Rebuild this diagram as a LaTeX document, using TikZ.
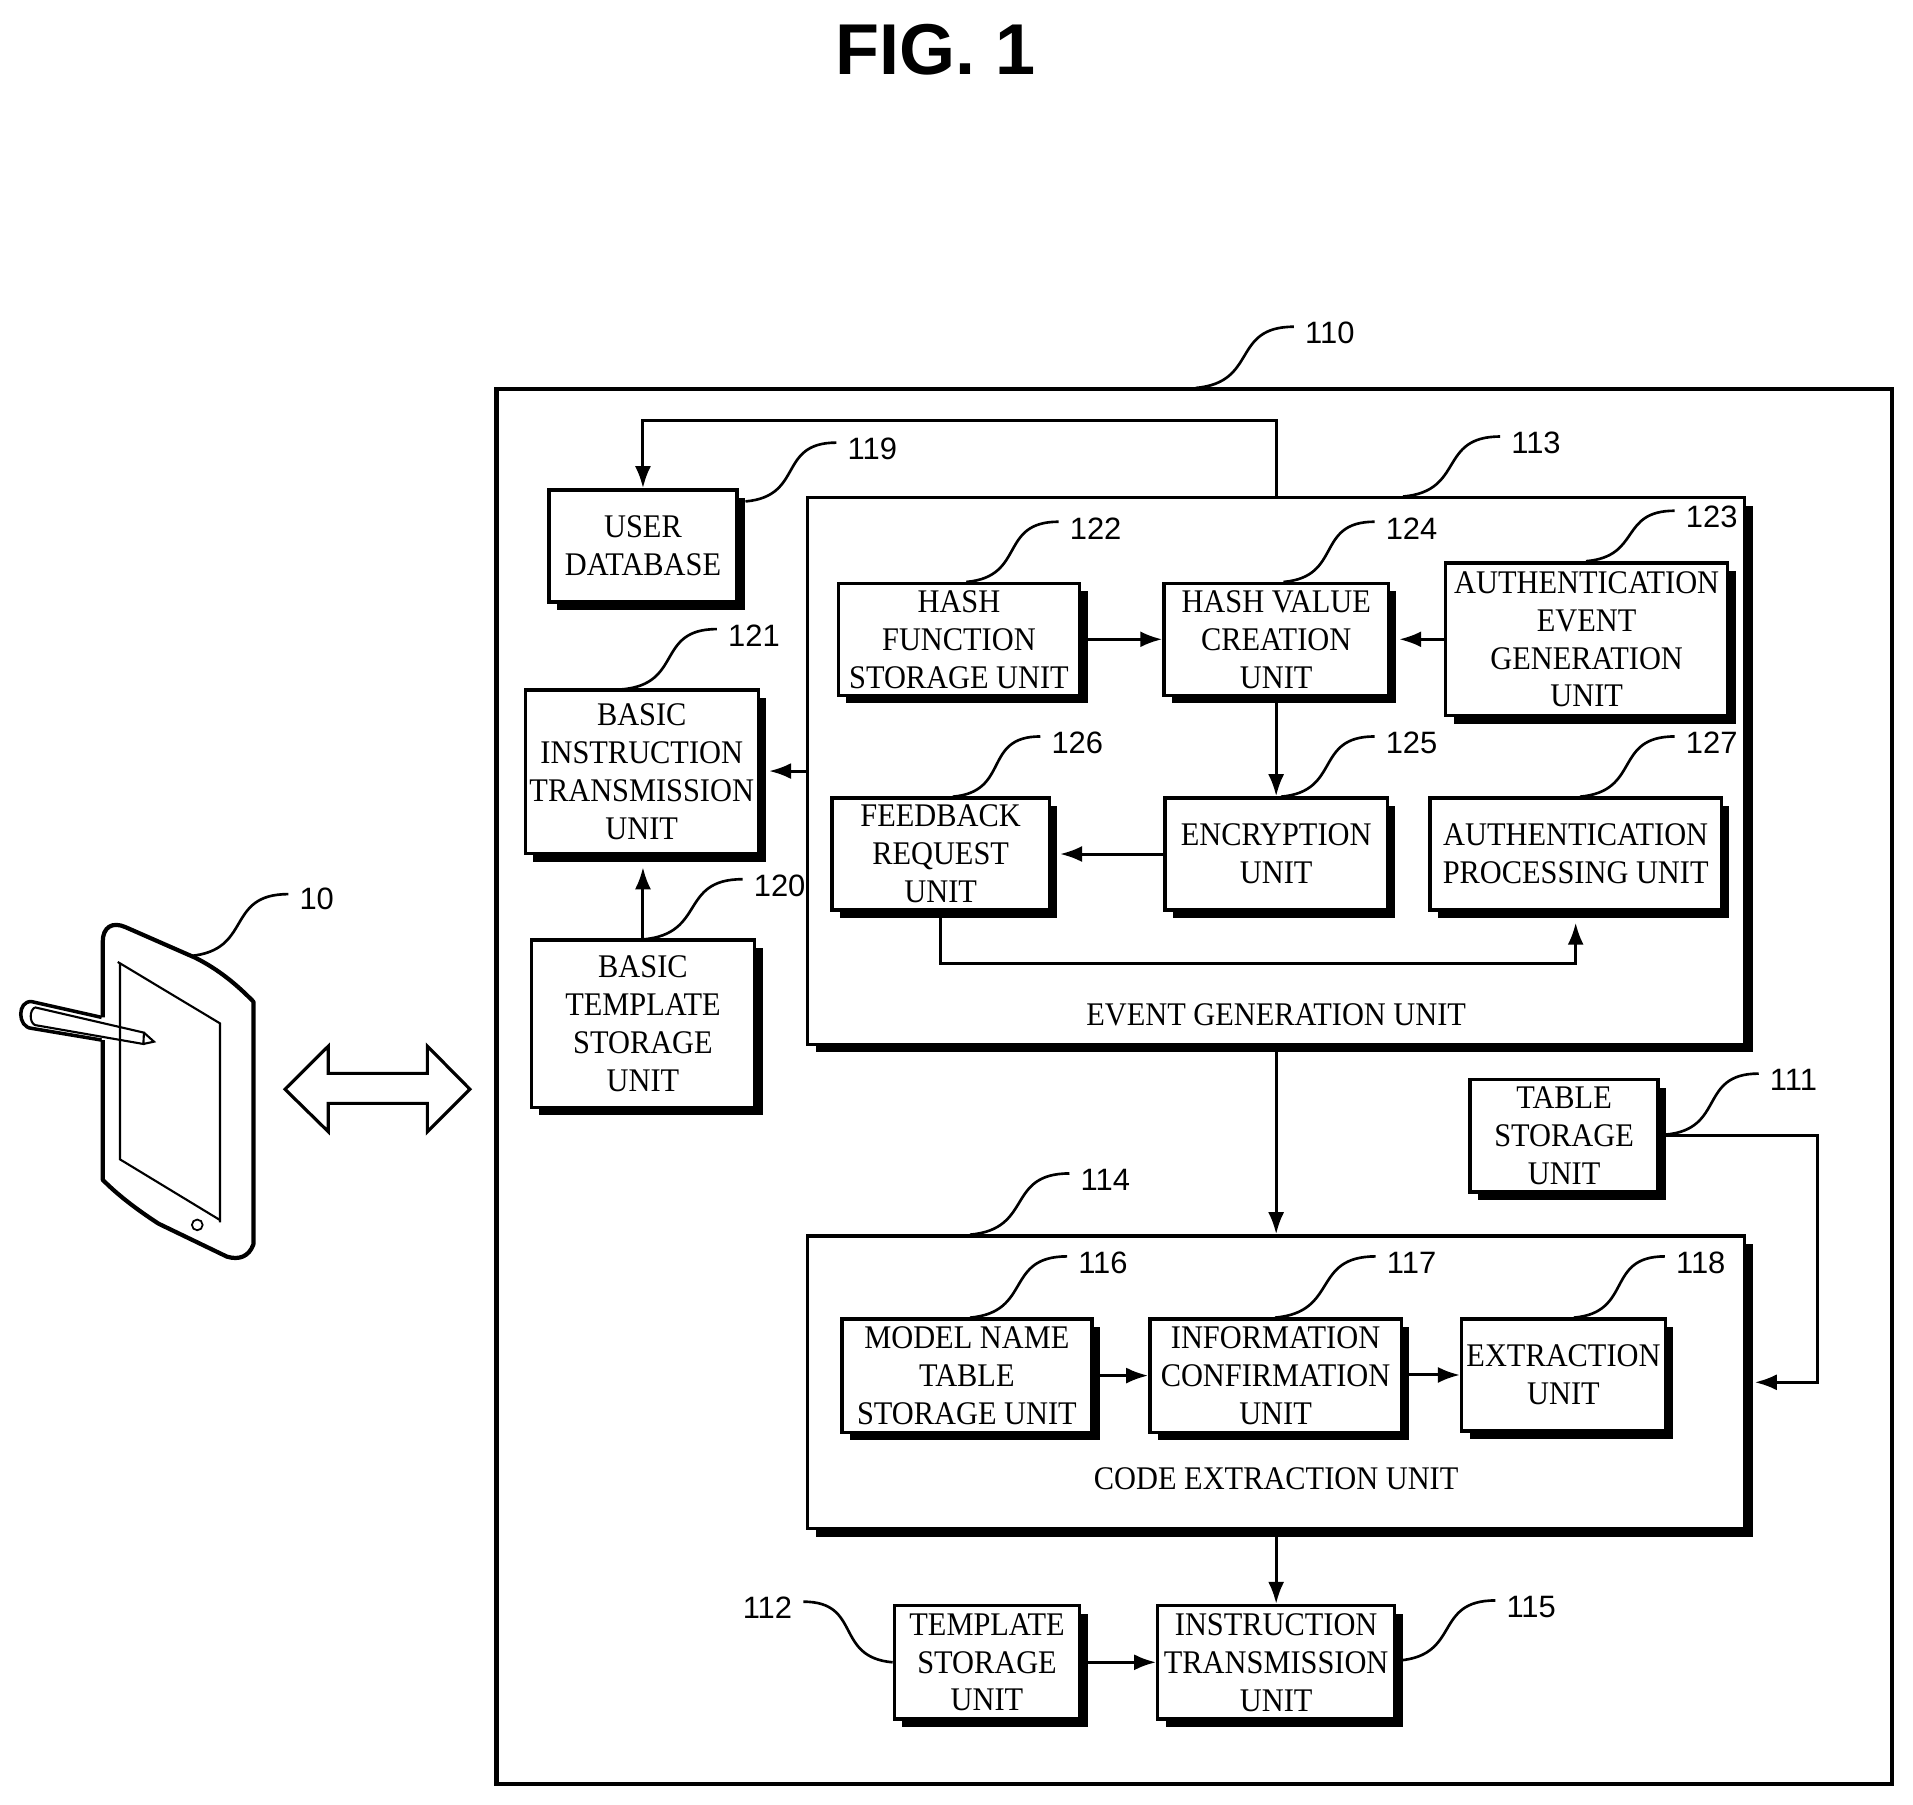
\documentclass[tikz,border=0pt]{standalone}
\usepackage{fontspec}
\setmainfont[FakeStretch=0.92]{Liberation Serif}
\newfontfamily\numfont{Liberation Sans}
\usetikzlibrary{arrows.meta,shadows}
\tikzset{
	sz/.style 2 args={minimum width=#1*0.0122cm,minimum height=#2*0.0122cm},
	unitbox/.style={draw,line width=.95pt,fill=white,inner sep=0pt,align=center,
		font=\fontsize{9.4}{10.8}\selectfont,
		drop shadow={shadow xshift=.8mm,shadow yshift=-.8mm,fill=black,opacity=1}},
	caption/.style={inner sep=0pt,font=\fontsize{9.4}{10.8}\selectfont},
	flow/.style={line width=.85pt,-{Latex[length=2.2mm,width=1.6mm]}},
	leader/.style={line width=.75pt},
	num/.style={inner sep=3pt,font=\numfont\fontsize{8.8}{10}\selectfont}
}
\newcommand\reflabel[3]{
	\node[num] (l#1) at #3 {#1};
	\coordinate (s#1) at #2;
	\draw[leader] (s#1) to[out=5,in=180,looseness=1.4] (l#1.170);
}

\begin{document}
\begin{tikzpicture}[x=0.0122cm,y=-0.0122cm]
\useasboundingbox (0,0) rectangle (1568,1478.7);

\node[font=\numfont\bfseries\fontsize{20.5}{24}\selectfont,inner sep=0pt] (title) at (767,41) {FIG. 1};

% tablet and pen
\draw[line width=1.2pt,line join=round] (84.2,833.9) -- (84.2,772) .. controls (84.2,760) and (92,755) .. (103,760)
	-- (160,785) .. controls (180,795) and (195,808) .. (207.7,821) -- (207.7,1020)
	.. controls (204,1030) and (196,1033) .. (186,1030) -- (130,1003) .. controls (110,990) and (95,978) .. (84.2,967)
	-- (84.2,852.5);
\draw[line width=.6pt] (96.5,788.5) -- (98.4,789.6) -- (180.3,838.8) -- (180.3,1002) (180.3,1000) -- (98.4,950.3) -- (98.4,789.6);
\draw[line width=.5pt] (161.7,1004) circle (4.4);
\draw[line width=1pt] (83.3,833.9) -- (26,821) .. controls (14,820) and (14,842) .. (26,842.9) -- (83.3,852.5);
\draw[line width=.6pt] (28.7,825.7) -- (118,846.4) -- (117.5,855.7) -- (28.7,840.2)
	(118,846.4) -- (126.2,853.8) -- (117.5,855.7)
	(28.7,825.7) .. controls (24,828) and (24,838) .. (28.7,840.2);

% double arrow
\draw[line width=.9pt] (233.6,892.8) -- (269.1,857.5) -- (269.1,879.8) -- (350.3,879.8) -- (350.3,857.5) -- (385.2,892.8)
	-- (350.3,927.6) -- (350.3,904.4) -- (269.1,904.4) -- (269.1,927.6) -- cycle;

% outer box
\node[draw,line width=1.2pt,sz={1144}{1143}] (110) at (979,890.5) {};

% left column
\node[unitbox,sz={154}{92}] (119) at (527,447.5) {USER\\DATABASE};
\node[unitbox,sz={191}{134}] (121) at (526,632.7) {BASIC\\INSTRUCTION\\TRANSMISSION\\UNIT};
\node[unitbox,sz={183}{137}] (120) at (527,839) {BASIC\\TEMPLATE\\STORAGE\\UNIT};

% event generation unit
\node[unitbox,sz={768}{448}] (113) at (1046,632) {};
\node[caption] (cap113) at (1046,832) {EVENT GENERATION UNIT};
\node[unitbox,sz={198}{92}] (122) at (786,524) {HASH\\FUNCTION\\STORAGE UNIT};
\node[unitbox,sz={184}{92}] (124) at (1046,524) {HASH VALUE\\CREATION\\UNIT};
\node[unitbox,sz={231}{125}] (123) at (1300.5,524) {AUTHENTICATION\\EVENT\\GENERATION\\UNIT};
\node[unitbox,sz={178}{92}] (126) at (771,700) {FEEDBACK\\REQUEST\\UNIT};
\node[unitbox,sz={182}{92}] (125) at (1046,700) {ENCRYPTION\\UNIT};
\node[unitbox,sz={239}{92}] (127) at (1291.5,700) {AUTHENTICATION\\PROCESSING UNIT};

\node[unitbox,sz={154}{92}] (111) at (1282,931) {TABLE\\STORAGE\\UNIT};

% code extraction unit
\node[unitbox,sz={768}{240}] (114) at (1046,1133) {};
\node[caption] (cap114) at (1046,1212) {CODE EXTRACTION UNIT};
\node[unitbox,sz={205}{93}] (116) at (792.5,1127.5) {MODEL NAME\\TABLE\\STORAGE UNIT};
\node[unitbox,sz={206}{93}] (117) at (1045.5,1127.5) {INFORMATION\\CONFIRMATION\\UNIT};
\node[unitbox,sz={167}{92}] (118) at (1281.5,1127) {EXTRACTION\\UNIT};

\node[unitbox,sz={152}{93}] (112) at (809,1362.5) {TEMPLATE\\STORAGE\\UNIT};
\node[unitbox,sz={194}{93}] (115) at (1046,1362.5) {INSTRUCTION\\TRANSMISSION\\UNIT};

% connectors
\coordinate (bend119) at (527,345);
\coordinate (bend127) at (771,790);
\coordinate (bend114) at (1490,1133);
\draw[flow] (113.north) |- (bend119) -- (119.north);
\draw[flow] (122) -- (124);
\draw[flow,shorten >=2.6pt] (123) -- (124.east);
\draw[flow] (124) -- (125);
\draw[flow,shorten >=2.6pt] (125) -- (126);
\draw[flow,shorten >=3.1pt] (126.south) |- (127.south |- bend127) -- (127.south);
\draw[flow,shorten >=2.6pt] (113.west) -- (121.east |- 113.west);
\draw[flow,shorten >=3.4pt] (120) -- (120 |- 121.south);
\draw[flow] (113) -- (114);
\draw[flow,shorten >=2.4pt] (111.east) -| (bend114) -- (114.east);
\draw[flow] (116.east |- 117.west) -- (117.west);
\draw[flow] (117.east |- 118.west) -- (118.west);
\draw[flow] (114) -- (115);
\draw[flow] (112) -- (115);

% reference numerals
\reflabel{10}{(155.7,783.6)}{(259.6,737)}
\reflabel{110}{(980,318)}{(1090,273)}
\reflabel{119}{(611,411)}{(715,368)}
\reflabel{113}{(1150,407)}{(1259,363)}
\reflabel{122}{(792,477)}{(898,433)}
\reflabel{124}{(1052,477)}{(1157,433)}
\reflabel{123}{(1300,460)}{(1403,424)}
\reflabel{121}{(510,565)}{(618,521)}
\reflabel{126}{(781,653)}{(883,609)}
\reflabel{125}{(1050,653)}{(1157,609)}
\reflabel{127}{(1295,653)}{(1403,609)}
\reflabel{120}{(527,770)}{(639,726)}
\reflabel{111}{(1365,930)}{(1470,885)}
\reflabel{114}{(795,1012)}{(906,967)}
\reflabel{116}{(795,1080)}{(904,1035)}
\reflabel{117}{(1045,1080)}{(1157,1035)}
\reflabel{118}{(1290,1080)}{(1394,1035)}
\reflabel{115}{(1147,1361)}{(1255,1317)}
\node[num] (l112) at (629,1318) {112};
\draw[leader] (112.west) to[out=175,in=0,looseness=1.4] (l112.10);
\end{tikzpicture}
\end{document}
